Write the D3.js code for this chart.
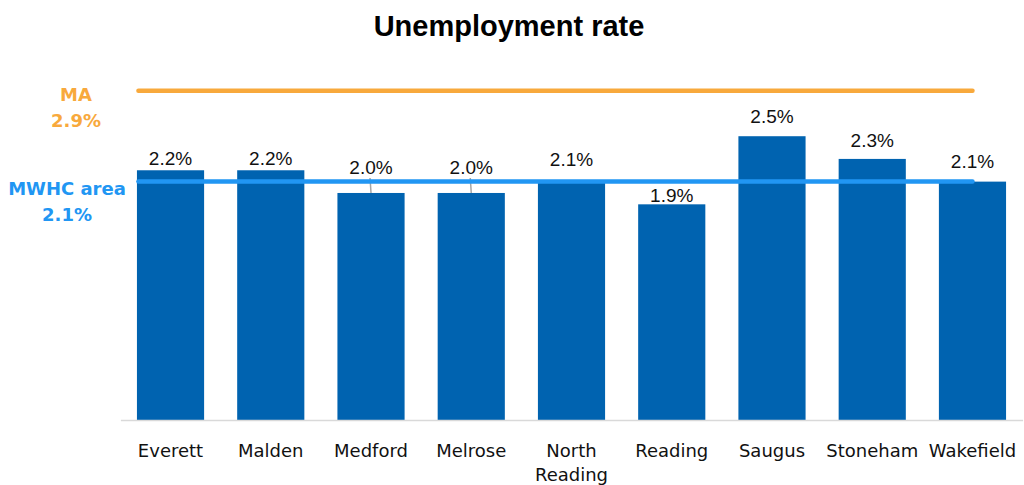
<!DOCTYPE html>
<html>
<head>
<meta charset="utf-8">
<script src="https://cdn.jsdelivr.net/npm/d3@7"></script>
<style>
  html, body { margin: 0; padding: 0; background: #fff; }
  svg { display: block; }
</style>
</head>
<body>
<script>
// Unemployment rate by community, with MA and MWHC area reference lines
const categories = ["Everett", "Malden", "Medford", "Melrose", "North Reading", "Reading", "Saugus", "Stoneham", "Wakefield"];
const rates = [2.2, 2.2, 2.0, 2.0, 2.1, 1.9, 2.5, 2.3, 2.1];
const refNames = ["MA", "MWHC area"];
const refRates = [2.9, 2.1];

const W = 1024, H = 485;
const barColor = "#0063B0";
const refColors = ["#F8A93C", "#2196F3"];

// gap (px) between each value label's baseline and its bar top
const labelLift = [5, 5, 19, 19, 16, 2, 13, 12, 14];
// labels lifted clear of the reference line get a short leader
const withLeader = [false, false, true, true, false, false, false, false, false];

const svg = d3.select("body").append("svg").attr("width", W).attr("height", H);

const x = d3.scaleBand().domain(categories).range([120.4, 1022.6])
  .paddingInner(0.33).paddingOuter(0.165);
const y = d3.scaleLinear().domain([0, 3.70]).range([420, 0]);
const fmt = d => d.toFixed(1) + "%";

// title
svg.append("text")
  .attr("x", 509).attr("y", 36)
  .attr("text-anchor", "middle")
  .style("font-family", "'Liberation Sans', Arial, sans-serif")
  .style("font-weight", "bold").style("font-size", "29px")
  .attr("fill", "#000")
  .text("Unemployment rate");

// bars
svg.append("g").selectAll("rect").data(categories).join("rect")
  .attr("x", d => x(d))
  .attr("width", x.bandwidth())
  .attr("y", (d, i) => y(rates[i]))
  .attr("height", (d, i) => y(0) - y(rates[i]))
  .attr("fill", barColor);

// baseline axis
const xAxis = svg.append("g").attr("transform", `translate(0,${y(0)})`)
  .call(d3.axisBottom(x).tickSize(0).tickFormat(""));
xAxis.select(".domain").attr("stroke", "#D9D9D9").attr("stroke-width", 1.5);

// category labels (wrapped on spaces)
const catLabels = svg.append("g")
  .style("font-family", "'DejaVu Sans', sans-serif").style("font-size", "18px");
categories.forEach(c => {
  const t = catLabels.append("text")
    .attr("x", x(c) + x.bandwidth() / 2).attr("y", 457)
    .attr("text-anchor", "middle").attr("fill", "#111");
  c.split(" ").forEach((w, k) => {
    t.append("tspan").attr("x", x(c) + x.bandwidth() / 2).attr("dy", k ? 24 : 0).text(w);
  });
});

// leader lines
svg.append("g").selectAll("line").data(categories.filter((c, i) => withLeader[i])).join("line")
  .attr("x1", d => x(d) + x.bandwidth() / 2 - 1)
  .attr("x2", d => x(d) + x.bandwidth() / 2)
  .attr("y1", d => { const i = categories.indexOf(d); return y(rates[i]) - labelLift[i] + 4; })
  .attr("y2", d => y(rates[categories.indexOf(d)]))
  .attr("stroke", "#A6A6A6").attr("stroke-width", 1.5);

// reference lines
const first = categories[0], last = categories[categories.length - 1];
svg.append("g").selectAll("line").data(refRates).join("line")
  .attr("x1", x(first) + 1.5)
  .attr("x2", x(last) + x.bandwidth() / 2)
  .attr("y1", d => y(d)).attr("y2", d => y(d))
  .attr("stroke", (d, i) => refColors[i])
  .attr("stroke-width", 4.5)
  .attr("stroke-linecap", "round");

// value labels
svg.append("g").selectAll("text").data(categories).join("text")
  .attr("x", d => x(d) + x.bandwidth() / 2)
  .attr("y", (d, i) => y(rates[i]) - labelLift[i])
  .attr("text-anchor", "middle")
  .style("font-family", "'Liberation Sans Narrow', 'Liberation Sans', Arial, sans-serif")
  .style("font-size", "19px")
  .attr("fill", "#111")
  .text((d, i) => fmt(rates[i]));

// reference labels on the left
const refLabelX = [76, 67];
const refLabelY = [101, 195];
const refG = svg.append("g")
  .style("font-family", "'DejaVu Sans', sans-serif")
  .style("font-weight", "bold").style("font-size", "18px");
refNames.forEach((n, i) => {
  refG.append("text").attr("x", refLabelX[i]).attr("y", refLabelY[i])
    .attr("text-anchor", "middle").attr("fill", refColors[i]).text(n);
  refG.append("text").attr("x", refLabelX[i]).attr("y", refLabelY[i] + 26)
    .attr("text-anchor", "middle").attr("fill", refColors[i]).text(fmt(refRates[i]));
});
</script>
</body>
</html>
